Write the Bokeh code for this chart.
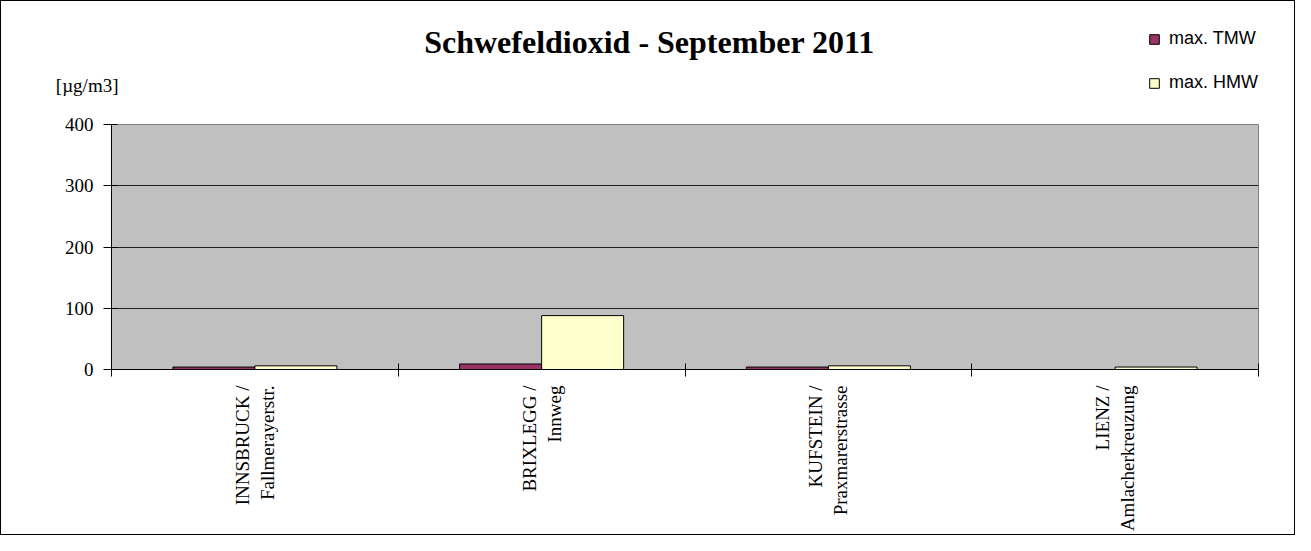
import math
from bokeh.plotting import figure
from bokeh.layouts import column
from bokeh.models import (Range1d, FixedTicker, ColumnDataSource, Label,
                          Legend, LegendItem)
from bokeh.transform import dodge
from bokeh.embed import file_html
from bokeh.resources import INLINE

# ---- data ----
stations = ["INNSBRUCK /\nFallmerayerstr.", "BRIXLEGG /\nInnweg",
            "KUFSTEIN /\nPraxmarerstrasse", "LIENZ /\nAmlacherkreuzung"]
max_tmw = [4, 9, 4, float("nan")]
max_hmw = [6, 88, 6, 4]
y_ticks = [0, 100, 200, 300, 400]
title_text = "Schwefeldioxid - September 2011"
unit_text = "[\u00b5g/m3]"
series_names = ["max. TMW", "max. HMW"]
series_colors = ["#993366", "#FFFFCC"]

n = len(stations)
centers = [i + 0.5 for i in range(n)]
boundaries = list(range(n + 1))
src = ColumnDataSource(dict(x=centers, tmw=max_tmw, hmw=max_hmw))

serif = "Liberation Serif"
W = 1293
LEFT, RIGHT = 110, 36
TOP_H = 111
MAIN_H = 533 - TOP_H
bw = 0.286

# ---- header figure: title, unit, legend (frame aligned with main frame) ----
top = figure(width=W, height=TOP_H, output_backend="svg", toolbar_location=None,
             x_range=Range1d(LEFT, W - RIGHT), y_range=Range1d(TOP_H, 0),
             x_axis_location=None, y_axis_location="left",
             min_border_left=LEFT, min_border_right=RIGHT,
             min_border_top=0, min_border_bottom=0)
top.outline_line_color = None
top.background_fill_color = "white"
top.border_fill_color = "white"
top.grid.visible = False

# unit label carried by an axis tick in the header's left margin
ua = top.yaxis[0]
unit_pos = [84]
ua.ticker = FixedTicker(ticks=unit_pos)
ua.major_label_overrides = {unit_pos[0]: unit_text}
ua.axis_line_color = None
ua.major_tick_line_color = None
ua.minor_tick_line_color = None
ua.major_tick_in = 0
ua.major_tick_out = 0
ua.major_label_standoff = -7
ua.major_label_text_font = serif
ua.major_label_text_font_size = "19px"
ua.major_label_text_color = "black"

top.add_layout(Label(x=648, y=40, text=title_text, text_align="center",
                     text_baseline="middle", text_font=serif, text_font_style="bold",
                     text_font_size="32px", text_color="black"))

# legend proxies (nothing drawn in the header, only their legend swatches)
proxy = ColumnDataSource(dict(x=[float("nan")], t=[float("nan")]))
d1 = top.vbar(x="x", top="t", width=bw, source=proxy,
              fill_color=series_colors[0], line_color="black", line_width=1)
d2 = top.vbar(x="x", top="t", width=bw, source=proxy,
              fill_color=series_colors[1], line_color="black", line_width=1)
legend = Legend(items=[LegendItem(label=series_names[0], renderers=[d1], index=0),
                       LegendItem(label=series_names[1], renderers=[d2], index=0)],
                location=(1147 - LEFT, 19), orientation="vertical")
legend.border_line_color = None
legend.background_fill_alpha = 0
legend.padding = 0
legend.margin = 0
legend.glyph_width = 12
legend.glyph_height = 12
legend.label_standoff = 9
legend.label_height = 20
legend.spacing = 23
legend.label_text_font = "Liberation Sans"
legend.label_text_font_size = "18px"
legend.label_text_color = "black"
top.add_layout(legend, "center")

# ---- main chart ----
p = figure(width=W, height=MAIN_H, output_backend="svg", toolbar_location=None,
           x_range=Range1d(0, n), y_range=Range1d(0, 400),
           x_axis_location="below", y_axis_location="left",
           min_border_left=LEFT, min_border_right=RIGHT, min_border_top=12,
           min_border_bottom=162)
p.background_fill_color = "#C0C0C0"
p.border_fill_color = "white"
p.outline_line_color = "#808080"
p.outline_line_width = 1

ya = p.yaxis[0]
ya.ticker = FixedTicker(ticks=y_ticks)
ya.axis_line_color = "black"
ya.major_tick_line_color = "black"
ya.major_tick_in = 6
ya.major_tick_out = 8
ya.minor_tick_line_color = None
ya.major_label_text_font = serif
ya.major_label_text_font_size = "19px"
ya.major_label_text_color = "black"
ya.major_label_standoff = 10

p.xgrid.visible = False
p.ygrid.ticker = FixedTicker(ticks=y_ticks[1:-1])
p.ygrid.grid_line_color = "#202020"
p.ygrid.grid_line_width = 1

xa = p.xaxis[0]
xa.ticker = FixedTicker(ticks=centers, minor_ticks=boundaries)
xa.major_label_overrides = {c: s for c, s in zip(centers, stations)}
xa.axis_line_color = "black"
xa.major_tick_line_color = None
xa.major_tick_in = 0
xa.major_tick_out = 7
xa.minor_tick_line_color = "black"
xa.minor_tick_in = 6
xa.minor_tick_out = 7
xa.major_label_orientation = math.pi / 2
xa.major_label_text_font = serif
xa.major_label_text_font_size = "19px"
xa.major_label_text_color = "black"
xa.major_label_standoff = 9

p.vbar(x=dodge("x", -bw / 2, range=p.x_range), top="tmw", width=bw, source=src,
       fill_color=series_colors[0], line_color="black", line_width=1)
p.vbar(x=dodge("x", bw / 2, range=p.x_range), top="hmw", width=bw, source=src,
       fill_color=series_colors[1], line_color="black", line_width=1)

layout = column(top, p, spacing=0)
layout.styles = {"border": "1px solid black"}

open("out.html", "w").write(file_html(layout, INLINE))
